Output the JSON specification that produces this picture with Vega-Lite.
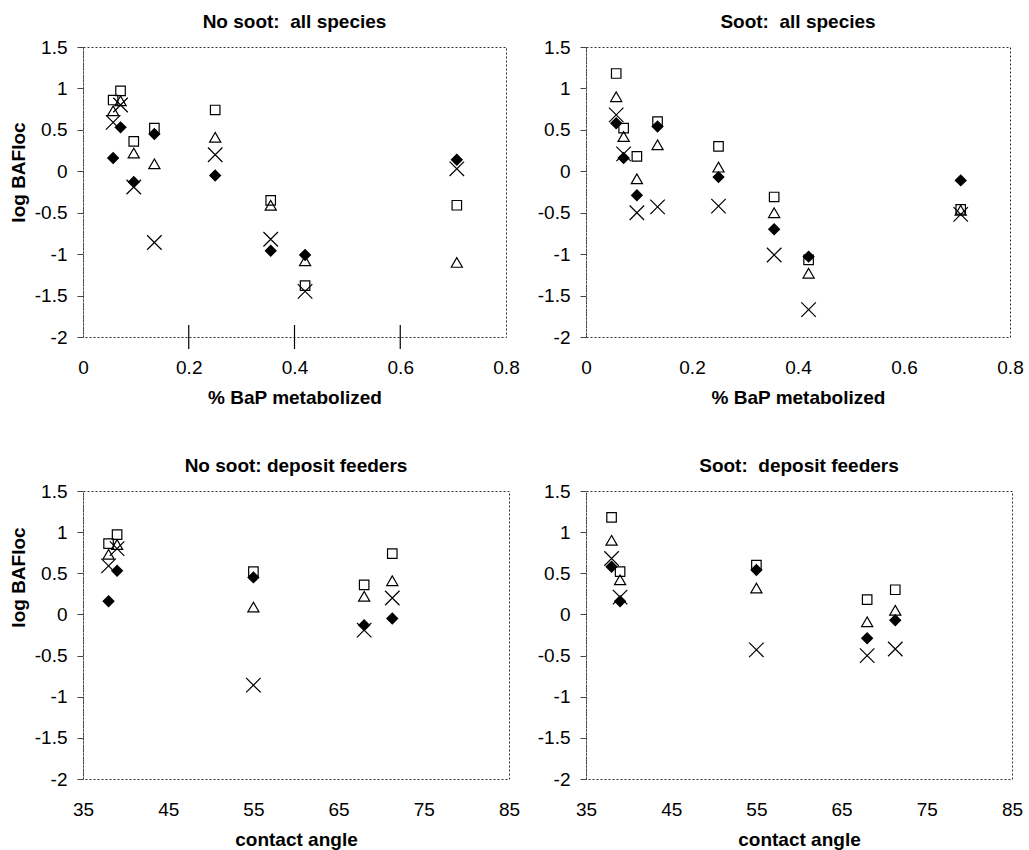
{
  "$schema": "https://vega.github.io/schema/vega-lite/v6.json",
  "background": "white",
  "padding": {"left": 8, "top": 12, "right": 2, "bottom": 2},
  "columns": 2,
  "spacing": {"row": 48, "column": 15},
  "config": {
    "locale": {"number": {"decimal": ".", "thousands": ",", "grouping": [3], "currency": ["$", ""], "minus": "-"}},
    "font": "Liberation Sans",
    "view": {"stroke": "#333", "strokeDash": [2, 2], "strokeWidth": 1},
    "title": {"font": "Liberation Sans", "fontSize": 19, "fontWeight": "bold", "color": "black", "offset": 6},
    "axis": {"labelFont": "Liberation Sans", "labelFontSize": 19, "labelColor": "black", "titleFont": "Liberation Sans", "titleFontSize": 19, "titleFontWeight": "bold", "titleColor": "black", "grid": false, "labelFlush": false, "labelOverlap": false, "format": ".1~f"},
    "axisX": {"ticks": false, "domain": false, "labelPadding": 21, "titlePadding": 11},
    "axisY": {"tickSize": 6, "tickColor": "#444", "domainColor": "#444", "domainDash": [2, 1], "labelPadding": 10, "titlePadding": 6}
  },
  "datasets": {
    "baf": [
      {"sp": 1, "metab": 0.057, "angle": 38, "soot": "No soot", "sq": 0.86, "tri": 0.73, "xm": 0.59, "dia": 0.16},
      {"sp": 2, "metab": 0.071, "angle": 39, "soot": "No soot", "sq": 0.97, "tri": 0.85, "xm": 0.8, "dia": 0.53},
      {"sp": 3, "metab": 0.096, "angle": 68, "soot": "No soot", "sq": 0.36, "tri": 0.22, "xm": -0.19, "dia": -0.13},
      {"sp": 4, "metab": 0.135, "angle": 55, "soot": "No soot", "sq": 0.52, "tri": 0.09, "xm": -0.86, "dia": 0.45},
      {"sp": 5, "metab": 0.25, "angle": 71.3, "soot": "No soot", "sq": 0.74, "tri": 0.41, "xm": 0.2, "dia": -0.05},
      {"sp": 6, "metab": 0.355, "angle": null, "soot": "No soot", "sq": -0.35, "tri": -0.41, "xm": -0.82, "dia": -0.96},
      {"sp": 7, "metab": 0.42, "angle": null, "soot": "No soot", "sq": -1.38, "tri": -1.08, "xm": -1.45, "dia": -1.01},
      {"sp": 8, "metab": 0.707, "angle": null, "soot": "No soot", "sq": -0.41, "tri": -1.1, "xm": 0.03, "dia": 0.14},
      {"sp": 1, "metab": 0.057, "angle": 38, "soot": "Soot", "sq": 1.18, "tri": 0.9, "xm": 0.68, "dia": 0.58},
      {"sp": 2, "metab": 0.071, "angle": 39, "soot": "Soot", "sq": 0.52, "tri": 0.42, "xm": 0.21, "dia": 0.16},
      {"sp": 3, "metab": 0.096, "angle": 68, "soot": "Soot", "sq": 0.18, "tri": -0.09, "xm": -0.5, "dia": -0.29},
      {"sp": 4, "metab": 0.135, "angle": 55, "soot": "Soot", "sq": 0.6, "tri": 0.32, "xm": -0.43, "dia": 0.54},
      {"sp": 5, "metab": 0.25, "angle": 71.3, "soot": "Soot", "sq": 0.3, "tri": 0.05, "xm": -0.42, "dia": -0.07},
      {"sp": 6, "metab": 0.355, "angle": null, "soot": "Soot", "sq": -0.31, "tri": -0.5, "xm": -1.01, "dia": -0.7},
      {"sp": 7, "metab": 0.42, "angle": null, "soot": "Soot", "sq": -1.07, "tri": -1.23, "xm": -1.67, "dia": -1.03},
      {"sp": 8, "metab": 0.707, "angle": null, "soot": "Soot", "sq": -0.46, "tri": -0.47, "xm": -0.52, "dia": -0.11}
    ],
    "axisMarks": [{"v": 0.2}, {"v": 0.4}, {"v": 0.6}]
  },
  "concat": [
    {
      "width": 423, "height": 290,
      "title": "No soot:\u00a0 all species",
      "layer": [
        {
          "data": {"name": "baf"},
          "transform": [{"fold": ["sq", "tri", "xm", "dia"], "as": ["key", "baf"]}, {"filter": "datum.soot == 'No soot'"}],
          "mark": {"type": "point", "stroke": "black", "strokeWidth": 1.2, "opacity": 1, "fillOpacity": 1},
          "encoding": {
            "x": {"field": "metab", "type": "quantitative", "scale": {"domain": [0, 0.8], "nice": false, "zero": false}, "axis": {"values": [0, 0.2, 0.4, 0.6, 0.8], "title": "% BaP metabolized"}},
            "y": {"field": "baf", "type": "quantitative", "scale": {"domain": [-2, 1.5], "nice": false}, "axis": {"values": [-2, -1.5, -1, -0.5, 0, 0.5, 1, 1.5], "title": "log BAFloc", "titleY": 125}},
            "shape": {"field": "key", "type": "nominal", "scale": {"domain": ["sq", "tri", "xm", "dia"], "range": ["square", "triangle-up", "M-1,-1L1,1M-1,1L1,-1", "diamond"]}, "legend": null},
            "fill": {"field": "key", "type": "nominal", "scale": {"domain": ["sq", "tri", "xm", "dia"], "range": ["transparent", "transparent", "transparent", "black"]}, "legend": null},
            "size": {"field": "key", "type": "nominal", "scale": {"type": "ordinal", "domain": ["sq", "tri", "xm", "dia"], "range": [90, 125, 210, 115]}, "legend": null}
          }
        },
        {
          "data": {"name": "axisMarks"},
          "mark": {"type": "tick", "orient": "vertical", "color": "black", "size": 24, "thickness": 1.2, "opacity": 1},
          "encoding": {
            "x": {"field": "v", "type": "quantitative"},
            "y": {"datum": -2, "type": "quantitative"}
          }
        }
      ]
    },
    {
      "width": 424, "height": 290,
      "title": "Soot:\u00a0 all species",
      "data": {"name": "baf"},
      "transform": [{"fold": ["sq", "tri", "xm", "dia"], "as": ["key", "baf"]}, {"filter": "datum.soot == 'Soot'"}],
      "mark": {"type": "point", "stroke": "black", "strokeWidth": 1.2, "opacity": 1, "fillOpacity": 1},
      "encoding": {
        "x": {"field": "metab", "type": "quantitative", "scale": {"domain": [0, 0.8], "nice": false, "zero": false}, "axis": {"values": [0, 0.2, 0.4, 0.6, 0.8], "title": "% BaP metabolized"}},
        "y": {"field": "baf", "type": "quantitative", "scale": {"domain": [-2, 1.5], "nice": false}, "axis": {"values": [-2, -1.5, -1, -0.5, 0, 0.5, 1, 1.5], "title": null}},
        "shape": {"field": "key", "type": "nominal", "scale": {"domain": ["sq", "tri", "xm", "dia"], "range": ["square", "triangle-up", "M-1,-1L1,1M-1,1L1,-1", "diamond"]}, "legend": null},
        "fill": {"field": "key", "type": "nominal", "scale": {"domain": ["sq", "tri", "xm", "dia"], "range": ["transparent", "transparent", "transparent", "black"]}, "legend": null},
        "size": {"field": "key", "type": "nominal", "scale": {"type": "ordinal", "domain": ["sq", "tri", "xm", "dia"], "range": [90, 125, 210, 115]}, "legend": null}
      }
    },
    {
      "width": 426, "height": 288,
      "title": "No soot: deposit feeders",
      "data": {"name": "baf"},
      "transform": [{"fold": ["sq", "tri", "xm", "dia"], "as": ["key", "baf"]}, {"filter": "datum.soot == 'No soot' && datum.angle != null"}],
      "mark": {"type": "point", "stroke": "black", "strokeWidth": 1.2, "opacity": 1, "fillOpacity": 1},
      "encoding": {
        "x": {"field": "angle", "type": "quantitative", "scale": {"domain": [35, 85], "nice": false, "zero": false}, "axis": {"values": [35, 45, 55, 65, 75, 85], "title": "contact angle"}},
        "y": {"field": "baf", "type": "quantitative", "scale": {"domain": [-2, 1.5], "nice": false}, "axis": {"values": [-2, -1.5, -1, -0.5, 0, 0.5, 1, 1.5], "title": "log BAFloc", "titleY": 86}},
        "shape": {"field": "key", "type": "nominal", "scale": {"domain": ["sq", "tri", "xm", "dia"], "range": ["square", "triangle-up", "M-1,-1L1,1M-1,1L1,-1", "diamond"]}, "legend": null},
        "fill": {"field": "key", "type": "nominal", "scale": {"domain": ["sq", "tri", "xm", "dia"], "range": ["transparent", "transparent", "transparent", "black"]}, "legend": null},
        "size": {"field": "key", "type": "nominal", "scale": {"type": "ordinal", "domain": ["sq", "tri", "xm", "dia"], "range": [90, 125, 210, 115]}, "legend": null}
      }
    },
    {
      "width": 426, "height": 288,
      "title": "Soot:\u00a0 deposit feeders",
      "data": {"name": "baf"},
      "transform": [{"fold": ["sq", "tri", "xm", "dia"], "as": ["key", "baf"]}, {"filter": "datum.soot == 'Soot' && datum.angle != null"}],
      "mark": {"type": "point", "stroke": "black", "strokeWidth": 1.2, "opacity": 1, "fillOpacity": 1},
      "encoding": {
        "x": {"field": "angle", "type": "quantitative", "scale": {"domain": [35, 85], "nice": false, "zero": false}, "axis": {"values": [35, 45, 55, 65, 75, 85], "title": "contact angle"}},
        "y": {"field": "baf", "type": "quantitative", "scale": {"domain": [-2, 1.5], "nice": false}, "axis": {"values": [-2, -1.5, -1, -0.5, 0, 0.5, 1, 1.5], "title": null}},
        "shape": {"field": "key", "type": "nominal", "scale": {"domain": ["sq", "tri", "xm", "dia"], "range": ["square", "triangle-up", "M-1,-1L1,1M-1,1L1,-1", "diamond"]}, "legend": null},
        "fill": {"field": "key", "type": "nominal", "scale": {"domain": ["sq", "tri", "xm", "dia"], "range": ["transparent", "transparent", "transparent", "black"]}, "legend": null},
        "size": {"field": "key", "type": "nominal", "scale": {"type": "ordinal", "domain": ["sq", "tri", "xm", "dia"], "range": [90, 125, 210, 115]}, "legend": null}
      }
    }
  ]
}
